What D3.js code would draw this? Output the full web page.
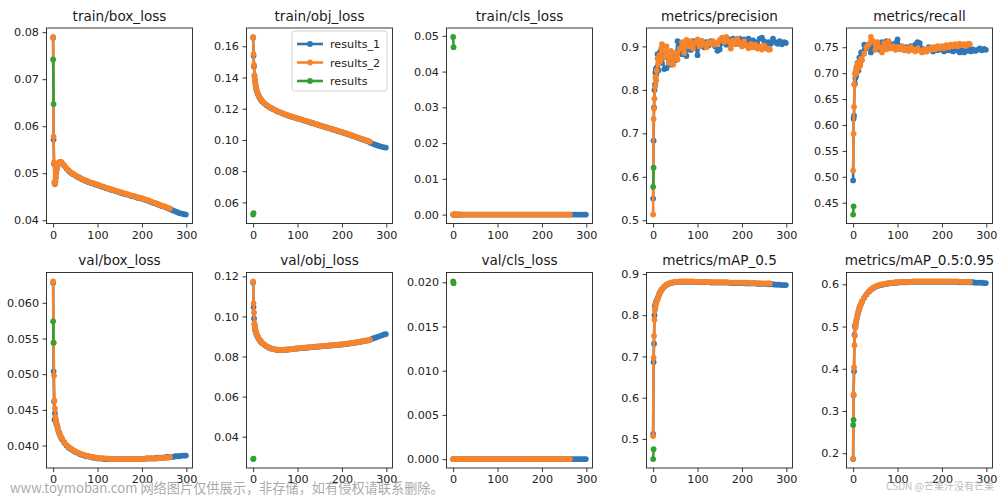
<!DOCTYPE html>
<html><head><meta charset="utf-8">
<script src="https://cdn.jsdelivr.net/npm/d3@7/dist/d3.min.js"></script>
<style>
html,body{margin:0;padding:0;background:#fff;}
svg{display:block;}
</style>
</head><body>
<svg id="chart" width="1000" height="497"></svg>
<script>
// ---------------- DATA ----------------
const SERIES_NAMES = ["results_1", "results_2", "results"];
const SERIES_COLORS = ["#2f77b6", "#f7842a", "#34a033"];

const EPOCHS_1 = [0,1,2,3,4,5,6,7,8,10,12,14,16,18,20,
25,30,35,40,45,50,55,60,65,70,
75,80,85,90,95,100,105,110,115,120,
125,130,135,140,145,150,155,160,165,170,
175,180,185,190,195,200,205,210,215,220,
225,230,235,240,245,250,255,260,265,270,
275,280,285,290,295,299];
const EPOCHS_2 = [0,1,2,3,4,5,6,7,8,10,12,14,16,18,20,
25,30,35,40,45,50,55,60,65,70,
75,80,85,90,95,100,105,110,115,120,
125,130,135,140,145,150,155,160,165,170,
175,180,185,190,195,200,205,210,215,220,
225,230,235,240,245,250,255,260,263];
const EPOCHS_3 = [0,1];

const TITLES = ["train/box_loss","train/obj_loss","train/cls_loss","metrics/precision","metrics/recall",
  "val/box_loss","val/obj_loss","val/cls_loss","metrics/mAP_0.5","metrics/mAP_0.5:0.95"];

const Y_TICK_LABELS = [
  ["0.04","0.05","0.06","0.07","0.08"],
  ["0.06","0.08","0.10","0.12","0.14","0.16"],
  ["0.00","0.01","0.02","0.03","0.04","0.05"],
  ["0.5","0.6","0.7","0.8","0.9"],
  ["0.45","0.50","0.55","0.60","0.65","0.70","0.75"],
  ["0.040","0.045","0.050","0.055","0.060"],
  ["0.04","0.06","0.08","0.10","0.12"],
  ["0.000","0.005","0.010","0.015","0.020"],
  ["0.5","0.6","0.7","0.8","0.9"],
  ["0.2","0.3","0.4","0.5","0.6"]
];
const X_TICK_LABELS = ["0","100","200","300"];

// train/box_loss
const TRAIN_BOX_1 = [0.0788,0.0572,0.0520,0.0480,0.0477,0.0482,0.0491,0.0501,0.0509,0.0517,0.0521,0.0523,0.0524,0.0523,0.0521,
0.0516,0.0510,0.0505,0.0501,0.0498,0.0495,0.0492,0.0490,0.0487,0.0485,
0.0483,0.0481,0.0479,0.0478,0.0476,0.0475,0.0473,0.0471,0.0470,0.0468,
0.0467,0.0465,0.0464,0.0462,0.0461,0.0459,0.0458,0.0456,0.0455,0.0454,
0.0452,0.0451,0.0450,0.0448,0.0447,0.0446,0.0444,0.0443,0.0441,0.0439,
0.0437,0.0436,0.0434,0.0432,0.0430,0.0429,0.0427,0.0425,0.0423,0.0421,
0.0419,0.0417,0.0415,0.0414,0.0413,0.0412];
const TRAIN_BOX_2 = [0.0790,0.0578,0.0523,0.0482,0.0478,0.0481,0.0490,0.0500,0.0508,0.0516,0.0520,0.0523,0.0524,0.0524,0.0522,
0.0517,0.0511,0.0506,0.0502,0.0499,0.0496,0.0493,0.0491,0.0488,0.0486,
0.0484,0.0482,0.0480,0.0479,0.0477,0.0476,0.0474,0.0472,0.0471,0.0469,
0.0468,0.0466,0.0465,0.0463,0.0462,0.0460,0.0459,0.0457,0.0456,0.0455,
0.0453,0.0452,0.0451,0.0449,0.0448,0.0447,0.0445,0.0444,0.0442,0.0440,
0.0438,0.0437,0.0435,0.0433,0.0431,0.0430,0.0428,0.0426,0.0425];
const TRAIN_BOX_3 = [0.0742,0.0647];

// train/obj_loss
const TRAIN_OBJ_1 = [0.1655,0.1540,0.1470,0.1410,0.1385,0.1360,0.1342,0.1328,0.1315,0.1298,0.1286,0.1274,0.1264,0.1256,0.1248,
0.1234,0.1223,0.1213,0.1205,0.1197,0.1190,0.1183,0.1177,0.1171,0.1166,
0.1160,0.1155,0.1150,0.1146,0.1142,0.1137,0.1133,0.1129,0.1124,0.1120,
0.1116,0.1111,0.1107,0.1102,0.1098,0.1093,0.1089,0.1084,0.1080,0.1076,
0.1071,0.1067,0.1063,0.1058,0.1054,0.1049,0.1045,0.1040,0.1035,0.1030,
0.1025,0.1020,0.1015,0.1010,0.1005,0.1000,0.0995,0.0990,0.0981,0.0975,
0.0970,0.0965,0.0960,0.0956,0.0953,0.0951];
const TRAIN_OBJ_2 = [0.1660,0.1550,0.1480,0.1415,0.1390,0.1365,0.1345,0.1330,0.1318,0.1300,0.1288,0.1276,0.1266,0.1258,0.1250,
0.1236,0.1225,0.1215,0.1206,0.1198,0.1191,0.1185,0.1178,0.1172,0.1167,
0.1161,0.1156,0.1152,0.1147,0.1143,0.1139,0.1134,0.1130,0.1126,0.1121,
0.1117,0.1112,0.1108,0.1103,0.1099,0.1094,0.1090,0.1086,0.1081,0.1077,
0.1073,0.1068,0.1064,0.1060,0.1055,0.1051,0.1046,0.1042,0.1037,0.1032,
0.1027,0.1022,0.1017,0.1012,0.1007,0.1002,0.0997,0.0992,0.0989];
const TRAIN_OBJ_3 = [0.0522,0.0531];

// train/cls_loss
const TRAIN_CLS_1 = [0,0,0,0,0,0,0,0,0,0,0,0,0,0,0,
0,0,0,0,0,0,0,0,0,0,
0,0,0,0,0,0,0,0,0,0,
0,0,0,0,0,0,0,0,0,0,
0,0,0,0,0,0,0,0,0,0,
0,0,0,0,0,0,0,0,0,0,
0,0,0,0,0,0];
const TRAIN_CLS_2 = [0,0,0,0,0,0,0,0,0,0,0,0,0,0,0,
0,0,0,0,0,0,0,0,0,0,
0,0,0,0,0,0,0,0,0,0,
0,0,0,0,0,0,0,0,0,0,
0,0,0,0,0,0,0,0,0,0,
0,0,0,0,0,0,0,0,0];
const TRAIN_CLS_3 = [0.0497,0.0468];

// metrics/precision
const PRECISION_1 = [0.550,0.683,0.760,0.800,0.812,0.840,0.848,0.836,0.852,0.882,0.845,0.868,0.888,0.862,0.884,
0.848,0.850,0.872,0.858,0.880,0.868,0.912,0.904,0.882,0.898,
0.878,0.906,0.892,0.912,0.900,0.880,0.906,0.912,0.898,0.910,
0.902,0.912,0.906,0.900,0.890,0.893,0.908,0.914,0.904,0.916,
0.910,0.918,0.912,0.906,0.918,0.912,0.916,0.910,0.918,0.906,
0.914,0.910,0.904,0.918,0.920,0.912,0.906,0.910,0.906,0.918,
0.910,0.906,0.912,0.905,0.910,0.908];
const PRECISION_2 = [0.513,0.733,0.757,0.780,0.808,0.828,0.830,0.822,0.845,0.872,0.860,0.880,0.866,0.895,0.905,
0.875,0.900,0.862,0.890,0.858,0.885,0.870,0.895,0.910,0.885,
0.915,0.900,0.912,0.895,0.908,0.916,0.900,0.912,0.905,0.898,
0.910,0.906,0.912,0.904,0.908,0.915,0.920,0.910,0.922,0.912,
0.895,0.914,0.905,0.918,0.908,0.900,0.912,0.902,0.896,0.906,
0.898,0.904,0.895,0.900,0.893,0.902,0.896,0.893,0.893];
const PRECISION_3 = [0.577,0.621];

// metrics/recall
const RECALL_1 = [0.493,0.612,0.618,0.678,0.680,0.690,0.700,0.695,0.712,0.720,0.705,0.730,0.722,0.740,0.735,
0.755,0.748,0.755,0.740,0.752,0.748,0.758,0.745,0.760,0.752,
0.762,0.748,0.756,0.750,0.758,0.765,0.752,0.748,0.745,0.750,
0.746,0.752,0.745,0.755,0.760,0.758,0.748,0.745,0.742,0.750,
0.746,0.742,0.748,0.744,0.750,0.745,0.742,0.748,0.744,0.746,
0.742,0.748,0.744,0.740,0.745,0.740,0.743,0.746,0.742,0.746,
0.743,0.745,0.748,0.744,0.747,0.745];
const RECALL_2 = [0.512,0.583,0.635,0.678,0.700,0.698,0.705,0.710,0.700,0.718,0.710,0.722,0.715,0.728,0.725,
0.738,0.750,0.756,0.770,0.762,0.745,0.760,0.750,0.740,0.758,
0.746,0.762,0.748,0.752,0.745,0.750,0.746,0.752,0.744,0.748,
0.743,0.750,0.746,0.742,0.748,0.744,0.740,0.746,0.742,0.748,
0.745,0.750,0.746,0.752,0.748,0.752,0.748,0.754,0.750,0.755,
0.752,0.756,0.752,0.757,0.754,0.756,0.753,0.757,0.756];
const RECALL_3 = [0.427,0.443];

// val/box_loss
const VAL_BOX_1 = [0.0628,0.0504,0.0462,0.0436,0.0445,0.0438,0.0435,0.0431,0.0429,0.0425,0.0420,0.0417,0.0414,0.0411,0.0409,
0.0404,0.0400,0.0397,0.0395,0.0393,0.0391,0.0390,0.0388,0.0387,0.0386,
0.0385,0.0385,0.0384,0.0383,0.0383,0.0382,0.0382,0.0382,0.0381,0.0381,
0.0381,0.0381,0.0381,0.0381,0.0381,0.0381,0.0381,0.0381,0.0381,0.0381,
0.0381,0.0381,0.0381,0.0381,0.0381,0.0381,0.0381,0.0382,0.0382,0.0382,
0.0382,0.0382,0.0383,0.0383,0.0383,0.0383,0.0384,0.0384,0.0384,0.0384,
0.0385,0.0385,0.0385,0.0386,0.0386,0.0386];
const VAL_BOX_2 = [0.0630,0.0544,0.0498,0.0463,0.0452,0.0440,0.0436,0.0432,0.0430,0.0426,0.0421,0.0418,0.0415,0.0412,0.0410,
0.0405,0.0401,0.0398,0.0396,0.0394,0.0392,0.0390,0.0389,0.0388,0.0387,
0.0386,0.0385,0.0384,0.0384,0.0383,0.0383,0.0382,0.0382,0.0382,0.0382,
0.0381,0.0381,0.0381,0.0381,0.0381,0.0381,0.0381,0.0381,0.0381,0.0381,
0.0381,0.0381,0.0381,0.0381,0.0381,0.0381,0.0381,0.0382,0.0382,0.0382,
0.0382,0.0382,0.0382,0.0383,0.0383,0.0383,0.0383,0.0383,0.0384];
const VAL_BOX_3 = [0.0574,0.0544];

// val/obj_loss
const VAL_OBJ_1 = [0.1170,0.1047,0.0990,0.0960,0.0945,0.0930,0.0922,0.0915,0.0909,0.0899,0.0891,0.0884,0.0878,0.0873,0.0868,
0.0859,0.0851,0.0845,0.0840,0.0837,0.0835,0.0833,0.0832,0.0832,0.0833,
0.0834,0.0835,0.0836,0.0837,0.0839,0.0840,0.0841,0.0842,0.0843,0.0844,
0.0845,0.0846,0.0847,0.0848,0.0849,0.0850,0.0851,0.0852,0.0853,0.0854,
0.0855,0.0856,0.0857,0.0858,0.0859,0.0860,0.0861,0.0863,0.0864,0.0866,
0.0867,0.0869,0.0871,0.0873,0.0875,0.0877,0.0879,0.0881,0.0886,0.0890,
0.0894,0.0898,0.0902,0.0906,0.0910,0.0912];
const VAL_OBJ_2 = [0.1175,0.1065,0.1020,0.0965,0.0950,0.0935,0.0925,0.0918,0.0912,0.0902,0.0893,0.0886,0.0880,0.0874,0.0869,
0.0860,0.0852,0.0846,0.0841,0.0838,0.0836,0.0834,0.0833,0.0833,0.0834,
0.0835,0.0836,0.0837,0.0838,0.0840,0.0841,0.0842,0.0843,0.0844,0.0845,
0.0846,0.0847,0.0848,0.0849,0.0850,0.0851,0.0852,0.0853,0.0854,0.0855,
0.0856,0.0857,0.0858,0.0859,0.0860,0.0861,0.0862,0.0864,0.0865,0.0867,
0.0868,0.0870,0.0872,0.0874,0.0876,0.0878,0.0880,0.0882,0.0884];
const VAL_OBJ_3 = [0.0288,0.0290];

// val/cls_loss
const VAL_CLS_1 = [0,0,0,0,0,0,0,0,0,0,0,0,0,0,0,
0,0,0,0,0,0,0,0,0,0,
0,0,0,0,0,0,0,0,0,0,
0,0,0,0,0,0,0,0,0,0,
0,0,0,0,0,0,0,0,0,0,
0,0,0,0,0,0,0,0,0,0,
0,0,0,0,0,0];
const VAL_CLS_2 = [0,0,0,0,0,0,0,0,0,0,0,0,0,0,0,
0,0,0,0,0,0,0,0,0,0,
0,0,0,0,0,0,0,0,0,0,
0,0,0,0,0,0,0,0,0,0,
0,0,0,0,0,0,0,0,0,0,
0,0,0,0,0,0,0,0,0];
const VAL_CLS_3 = [0.0201,0.0199];

// metrics/mAP_0.5
const MAP50_1 = [0.512,0.686,0.731,0.800,0.822,0.826,0.830,0.833,0.836,0.840,0.846,0.852,0.856,0.860,0.863,
0.869,0.873,0.876,0.878,0.879,0.880,0.881,0.881,0.881,0.881,
0.881,0.881,0.881,0.881,0.880,0.880,0.880,0.880,0.880,0.880,
0.880,0.879,0.879,0.879,0.879,0.879,0.879,0.879,0.879,0.879,
0.878,0.878,0.878,0.878,0.878,0.878,0.878,0.877,0.877,0.877,
0.877,0.877,0.876,0.876,0.876,0.876,0.876,0.875,0.875,0.875,
0.874,0.874,0.874,0.873,0.873,0.873];
const MAP50_2 = [0.507,0.697,0.750,0.789,0.812,0.818,0.826,0.830,0.834,0.838,0.845,0.851,0.856,0.860,0.864,
0.870,0.874,0.877,0.879,0.880,0.881,0.881,0.882,0.882,0.882,
0.882,0.882,0.882,0.882,0.881,0.881,0.881,0.881,0.881,0.881,
0.880,0.880,0.880,0.880,0.880,0.880,0.880,0.880,0.880,0.879,
0.879,0.879,0.879,0.879,0.879,0.879,0.879,0.879,0.878,0.878,
0.878,0.878,0.878,0.878,0.877,0.877,0.877,0.877,0.877];
const MAP50_3 = [0.451,0.475];

// metrics/mAP_0.5:0.95
const MAP5095_1 = [0.186,0.337,0.394,0.480,0.502,0.498,0.506,0.513,0.519,0.528,0.536,0.543,0.549,0.554,0.559,
0.568,0.576,0.582,0.587,0.591,0.594,0.596,0.598,0.599,0.600,
0.601,0.602,0.603,0.603,0.604,0.604,0.605,0.605,0.605,0.605,
0.606,0.606,0.606,0.606,0.606,0.606,0.606,0.606,0.606,0.606,
0.606,0.606,0.606,0.606,0.606,0.606,0.606,0.606,0.606,0.606,
0.606,0.606,0.606,0.605,0.605,0.605,0.605,0.605,0.605,0.605,
0.604,0.604,0.604,0.604,0.603,0.603];
const MAP5095_2 = [0.187,0.339,0.403,0.456,0.478,0.497,0.505,0.512,0.518,0.528,0.537,0.544,0.550,0.555,0.560,
0.569,0.577,0.583,0.588,0.592,0.595,0.597,0.599,0.600,0.601,
0.602,0.603,0.604,0.604,0.605,0.605,0.605,0.606,0.606,0.606,
0.606,0.606,0.607,0.607,0.607,0.607,0.607,0.607,0.607,0.607,
0.607,0.607,0.607,0.607,0.607,0.607,0.607,0.607,0.607,0.607,
0.607,0.607,0.607,0.606,0.606,0.606,0.606,0.606,0.606];
const MAP5095_3 = [0.267,0.279];

const WATERMARK_LEFT = "www.toymoban.com 网络图片仅供展示，非存储，如有侵权请联系删除。";
const WATERMARK_RIGHT = "CSDN @芒果汁没有芒果";

// ---------------- LAYOUT ----------------
const PANEL_DATA = [
  [TRAIN_BOX_1, TRAIN_BOX_2, TRAIN_BOX_3],
  [TRAIN_OBJ_1, TRAIN_OBJ_2, TRAIN_OBJ_3],
  [TRAIN_CLS_1, TRAIN_CLS_2, TRAIN_CLS_3],
  [PRECISION_1, PRECISION_2, PRECISION_3],
  [RECALL_1, RECALL_2, RECALL_3],
  [VAL_BOX_1, VAL_BOX_2, VAL_BOX_3],
  [VAL_OBJ_1, VAL_OBJ_2, VAL_OBJ_3],
  [VAL_CLS_1, VAL_CLS_2, VAL_CLS_3],
  [MAP50_1, MAP50_2, MAP50_3],
  [MAP5095_1, MAP5095_2, MAP5095_3]
];
const EPOCHS = [EPOCHS_1, EPOCHS_2, EPOCHS_3];

const svg = d3.select("#chart");
const AX_W = 146, AX_H = 195.5;
const COL_X = [46.5, 246.5, 446.5, 646.5, 846.5];
const ROW_Y = [28, 272.5];
const TICK_FONT = 11.2, TITLE_FONT = 13.6;
const FONT = "'DejaVu Sans', sans-serif";
const MARKER_R = 2.9, LINE_W = 2.6;

function padDomain(lo, hi) { const m = (hi - lo) * 0.05; return [lo - m, hi + m]; }

PANEL_DATA.forEach((series, idx) => {
  const col = idx % 5, row = Math.floor(idx / 5);
  const ox = COL_X[col], oy = ROW_Y[row];
  const g = svg.append("g").attr("transform", `translate(${ox},${oy})`);

  const allX = EPOCHS.flat();
  const allY = series.flat();
  const x = d3.scaleLinear().domain(padDomain(d3.min(allX), d3.max(allX))).range([0, AX_W]);
  const y = d3.scaleLinear().domain(padDomain(d3.min(allY), d3.max(allY))).range([AX_H, 0]);

  const clipId = "clip" + idx;
  g.append("clipPath").attr("id", clipId).append("rect").attr("width", AX_W).attr("height", AX_H);
  const plot = g.append("g").attr("clip-path", `url(#${clipId})`);

  series.forEach((vals, s) => {
    const pts = vals.map((v, i) => [EPOCHS[s][i], v]);
    plot.append("path")
      .attr("d", d3.line().x(d => x(d[0])).y(d => y(d[1]))(pts))
      .attr("fill", "none").attr("stroke", SERIES_COLORS[s])
      .attr("stroke-width", LINE_W).attr("stroke-linejoin", "round").attr("stroke-linecap", "round");
    plot.append("g").selectAll("circle").data(pts).join("circle")
      .attr("cx", d => x(d[0])).attr("cy", d => y(d[1])).attr("r", MARKER_R)
      .attr("fill", SERIES_COLORS[s]);
  });

  // axes
  const yl = Y_TICK_LABELS[idx];
  const yAxis = d3.axisLeft(y).tickValues(yl.map(Number)).tickFormat((d, i) => yl[i])
    .tickSize(4).tickPadding(3.5).tickSizeOuter(0);
  const xAxis = d3.axisBottom(x).tickValues(X_TICK_LABELS.map(Number)).tickFormat((d, i) => X_TICK_LABELS[i])
    .tickSize(4).tickPadding(3.5).tickSizeOuter(0);
  const ya = g.append("g").call(yAxis);
  const xa = g.append("g").attr("transform", `translate(0,${AX_H})`).call(xAxis);
  [ya, xa].forEach(a => {
    a.select(".domain").remove();
    a.selectAll("line").attr("stroke", "#222").attr("stroke-width", 0.9);
    a.selectAll("text").attr("fill", "#222").style("font-family", FONT).style("font-size", TICK_FONT + "px");
  });

  g.append("rect").attr("width", AX_W).attr("height", AX_H)
    .attr("fill", "none").attr("stroke", "#222").attr("stroke-width", 0.9);

  g.append("text").attr("x", AX_W / 2).attr("y", -7.5).attr("text-anchor", "middle")
    .style("font-family", FONT).style("font-size", TITLE_FONT + "px").attr("fill", "#1a1a1a")
    .text(TITLES[idx]);

  if (idx === 1) {
    const lg = g.append("g").attr("transform", `translate(${AX_W - 100.5},3)`);
    lg.append("rect").attr("width", 95).attr("height", 60).attr("rx", 2.5)
      .attr("fill", "rgba(255,255,255,0.8)").attr("stroke", "#cccccc").attr("stroke-width", 0.9);
    SERIES_NAMES.forEach((name, s) => {
      const cy = 13 + s * 18.5;
      lg.append("line").attr("x1", 5).attr("x2", 31).attr("y1", cy).attr("y2", cy)
        .attr("stroke", SERIES_COLORS[s]).attr("stroke-width", LINE_W);
      lg.append("circle").attr("cx", 18).attr("cy", cy).attr("r", MARKER_R).attr("fill", SERIES_COLORS[s]);
      lg.append("text").attr("x", 38).attr("y", cy + 4).text(name)
        .style("font-family", FONT).style("font-size", TICK_FONT + "px").attr("fill", "#222");
    });
  }
});

// watermarks
svg.append("text").attr("x", 10).attr("y", 493).text(WATERMARK_LEFT)
  .style("font-family", "'Noto Sans CJK SC', sans-serif").style("font-size", "13.2px")
  .attr("fill", "rgba(140,140,140,0.75)");
svg.append("text").attr("x", 994).attr("y", 490).attr("text-anchor", "end").text(WATERMARK_RIGHT)
  .style("font-family", "'Noto Sans CJK SC', sans-serif").style("font-size", "10px")
  .attr("fill", "rgba(170,170,170,0.8)");
</script>
</body></html>
